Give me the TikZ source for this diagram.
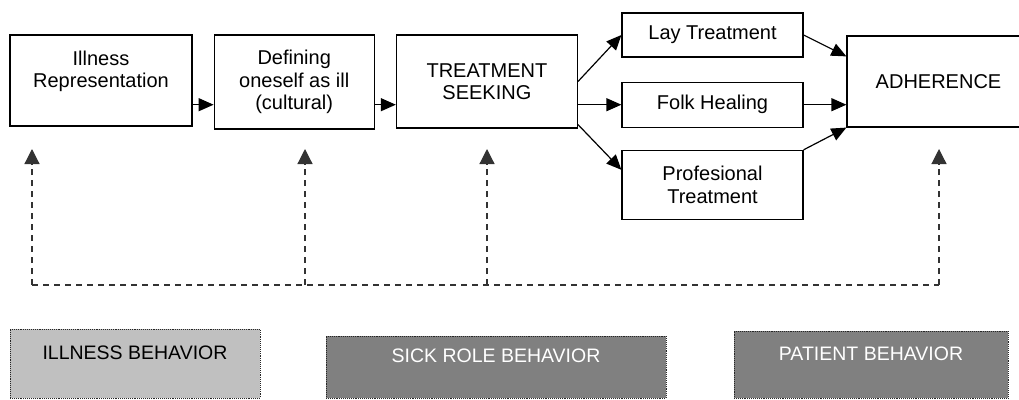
\documentclass[tikz,border=0pt]{standalone}
\usepackage{fontspec}
\setmainfont{Liberation Sans}
\usetikzlibrary{positioning, arrows.meta}

\definecolor{illnessgray}{HTML}{C0C0C0}
\definecolor{rolegray}{HTML}{808080}

\begin{document}
\begin{tikzpicture}[x=1pt, y=-1pt, node distance=21pt,
  main box/.style={draw, line width=1.2pt, align=center, inner sep=0pt,
    font=\fontsize{20pt}{22.5pt}\selectfont},
  group box/.style={draw=black!85, densely dotted, line width=0.9pt, align=center,
    inner sep=0pt, font=\fontsize{19.5pt}{22pt}\selectfont},
  arrow/.style={line width=1.2pt, -{Triangle[length=15pt,width=13pt]}},
  dash line/.style={line width=1.2pt, black!80, dash pattern=on 6pt off 5pt}]

\useasboundingbox (0,0) rectangle (1019,399);

\node[main box, minimum width=182pt, minimum height=91pt] (IR) at (101,80.5) {Illness\\Representation\\~};
\node[main box, minimum width=160pt, minimum height=94pt] (DI) [right=21pt of IR.north east, anchor=north west] {Defining\\oneself as ill\\(cultural)};
\node[main box, minimum width=181pt, minimum height=93pt] (TS) [right=21pt of DI.north east, anchor=north west] {TREATMENT\\SEEKING};

\node[main box, minimum width=181pt, minimum height=44pt] (LT) at (712.5,35) {Lay Treatment};
\node[main box, minimum width=181pt, minimum height=45pt] (FH) [below=24pt of LT] {Folk Healing};
\node[main box, minimum width=181pt, minimum height=69pt] (PT) [below=22pt of FH] {Profesional\\Treatment};

\node[main box, minimum width=183pt, minimum height=91pt] (AD) at (938.5,81.5) {ADHERENCE};

\node[group box, fill=illnessgray, minimum width=250pt, minimum height=69pt] (IB) at (135,363.5) {ILLNESS BEHAVIOR\\~};
\node[group box, fill=rolegray, text=white, minimum width=340pt, minimum height=62pt] (SB) at (496,367) {SICK ROLE BEHAVIOR\\~};
\node[group box, fill=rolegray, text=white, minimum width=274pt, minimum height=67pt] (PB) at (871,364.5) {PATIENT BEHAVIOR\\~};

% main flow
\draw[arrow] (IR.east |- FH.west) -- (DI.west |- FH.west);
\draw[arrow] (DI.east |- FH.west) -- (TS.west |- FH.west);
\draw[arrow] (TS.east) -- (LT.west);
\draw[arrow] (TS.east |- FH.west) -- (FH.west);
\draw[arrow] ([yshift=4pt]TS.south east) -- ([yshift=-20pt]PT.north west);
\draw[arrow] (LT.east) -- ([yshift=-21pt]AD.north west);
\draw[arrow] (FH.east) -- (AD.west |- FH.east);
\draw[arrow] (PT.north east) -- (AD.south west);

% feedback lines
\foreach \x [count=\i] in {32,305,487,939} {
  \coordinate (base\i) at (\x,285);
  \coordinate (tip\i) at (\x,149);
  \draw[dash line, -{Triangle[length=15pt,width=15pt]}] (base\i) -- (tip\i);
}
\draw[dash line] (base1) -- (base4);

\end{tikzpicture}
\end{document}
